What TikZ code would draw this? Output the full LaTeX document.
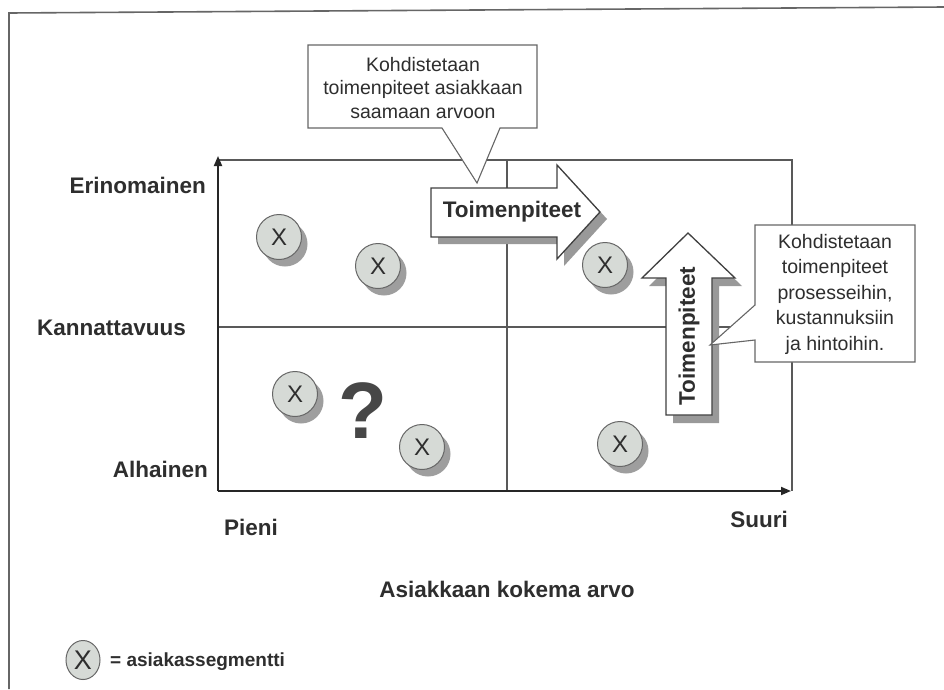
\documentclass[tikz,border=0pt]{standalone}
\usepackage{fontspec}
\setmainfont{Liberation Sans}
\usetikzlibrary{arrows.meta,shapes.geometric}
\definecolor{segfill}{HTML}{D6DAD6}
\definecolor{inkgrey}{HTML}{2E2E2E}
\tikzset{
  framel/.style={line width=1.6pt, draw=black!60},
  axisline/.style={line width=1.8pt, draw=black!85},
  gridline/.style={line width=1.1pt, draw=black!65},
  seg/.style={circle, minimum size=45pt, inner sep=0pt, fill=segfill, draw=black!60,
    line width=1pt, font=\fontsize{24}{24}\selectfont, text=inkgrey},
  segshadow/.style={circle, minimum size=45pt, inner sep=0pt, fill=black!38},
  legendseg/.style={ellipse, minimum width=34pt, minimum height=39pt, inner sep=0pt,
    fill=segfill, draw=black!60, line width=1pt, font=\fontsize{27}{27}\selectfont,
    text=inkgrey},
  lbl/.style={font=\bfseries\fontsize{22.5}{24}\selectfont, text=inkgrey, inner sep=0pt},
  legendlbl/.style={font=\bfseries\fontsize{19}{22}\selectfont, text=inkgrey, inner sep=0pt},
  calltext/.style={font=\fontsize{19.5}{23.5}\selectfont, align=center, text=inkgrey, inner sep=0pt},
  calltextb/.style={font=\fontsize{19.5}{25.5}\selectfont, align=center, text=inkgrey, inner sep=0pt},
  callbox/.style={fill=white, draw=black!60, line width=1.1pt},
  bigarrow/.style={fill=white, draw=black!75, line width=1.3pt},
  arrowshadow/.style={fill=black!40},
  arrowtext/.style={font=\bfseries\fontsize{22.5}{24}\selectfont, text=inkgrey, inner sep=0pt},
  qmark/.style={font=\bfseries\fontsize{80}{80}\selectfont, text=black!72, inner sep=0pt},
}
% a customer segment: shaded disc with a shadow offset to the lower right
\newcommand{\segmentdot}[3]{%
  \node[segshadow] (#1s) at (#2+6,#3+7) {};
  \node[seg] (#1) at (#2,#3) {X};}
\begin{document}
\begin{tikzpicture}[x=1pt,y=-1pt]
\useasboundingbox (0,0) rectangle (944,689);
\fill[white] (0,0) rectangle (944,689);

% page frame
\coordinate (fBL) at (9,689);
\coordinate (fTL) at (9,13);
\coordinate (fTR) at (944,7);
\draw[framel] (fBL) -- (fTL) -- (fTR);

% quadrant grid
\coordinate (O) at (218,491);
\coordinate (Ytop) at (218,156);
\coordinate (Xend) at (791,491);
\coordinate (TL) at (218,160);
\coordinate (TR) at (792,160);
\coordinate (BR) at (792,491);
\coordinate (MT) at (507,160);
\coordinate (MB) at (507,491);
\coordinate (ML) at (218,327);
\coordinate (MR) at (792,327);
\draw[gridline] (TL) -- (TR) -- (BR);
\draw[gridline] (MT) -- (MB);
\draw[gridline] (ML) -- (MR);
\draw[axisline,-{Triangle[length=10pt,width=8pt]}] (O) -- (Ytop);
\draw[axisline,-{Triangle[length=10pt,width=8pt]}] (O) -- (Xend);

% axis labels
\node[lbl, anchor=east] (erin) at (206,185) {Erinomainen};
\node[lbl, anchor=west] (kann) at (37,328) {Kannattavuus};
\node[lbl, anchor=east] (alha) at (208,469) {Alhainen};
\node[lbl] (pieni) at (251,527) {Pieni};
\node[lbl] (suuri) at (759,519) {Suuri};
\node[lbl] (xlabel) at (507,589) {Asiakkaan kokema arvo};

% customer segments
\segmentdot{s1}{279}{237}
\segmentdot{s2}{378}{266}
\segmentdot{s3}{295}{394}
\segmentdot{s4}{422}{447}
\segmentdot{s5}{605}{265}
\segmentdot{s6}{620}{444}

\node[qmark] (q) at (363,411) {?};

% horizontal block arrow
\fill[arrowshadow, shift={(7,7)}] (431,188) -- (557,188) -- (557,165) -- (600,212)
  -- (557,259) -- (557,237) -- (431,237) -- cycle;
\path[bigarrow] (431,188) -- (557,188) -- (557,165) -- (600,212)
  -- (557,259) -- (557,237) -- (431,237) -- cycle;
\node[arrowtext] (hat) at (512,212) {Toimenpiteet};

% vertical block arrow
\fill[arrowshadow, shift={(7,8)}] (666,415) -- (666,278) -- (642,278) -- (688,233)
  -- (735,278) -- (712,278) -- (712,415) -- cycle;
\path[bigarrow] (666,415) -- (666,278) -- (642,278) -- (688,233)
  -- (735,278) -- (712,278) -- (712,415) -- cycle;
\node[arrowtext, rotate=90] (vat) at (689,336) {Toimenpiteet};

% callouts
\path[callbox] (308,45) -- (537,45) -- (537,128) -- (500,128) -- (477,183)
  -- (442,128) -- (308,128) -- cycle;
\node[calltext] (c1) at (423,88) {Kohdistetaan\\toimenpiteet asiakkaan\\saamaan arvoon};

\path[callbox] (755,225) -- (915,225) -- (915,362) -- (755,362) -- (755,340)
  -- (710,345) -- (755,305) -- cycle;
\node[calltextb] (c2) at (835,294) {Kohdistetaan\\toimenpiteet\\prosesseihin,\\kustannuksiin\\ja hintoihin.};

% legend
\node[legendseg] (legc) at (83,660) {X};
\node[legendlbl, anchor=west] (legt) at (110,662) {= asiakassegmentti};
\end{tikzpicture}
\end{document}
